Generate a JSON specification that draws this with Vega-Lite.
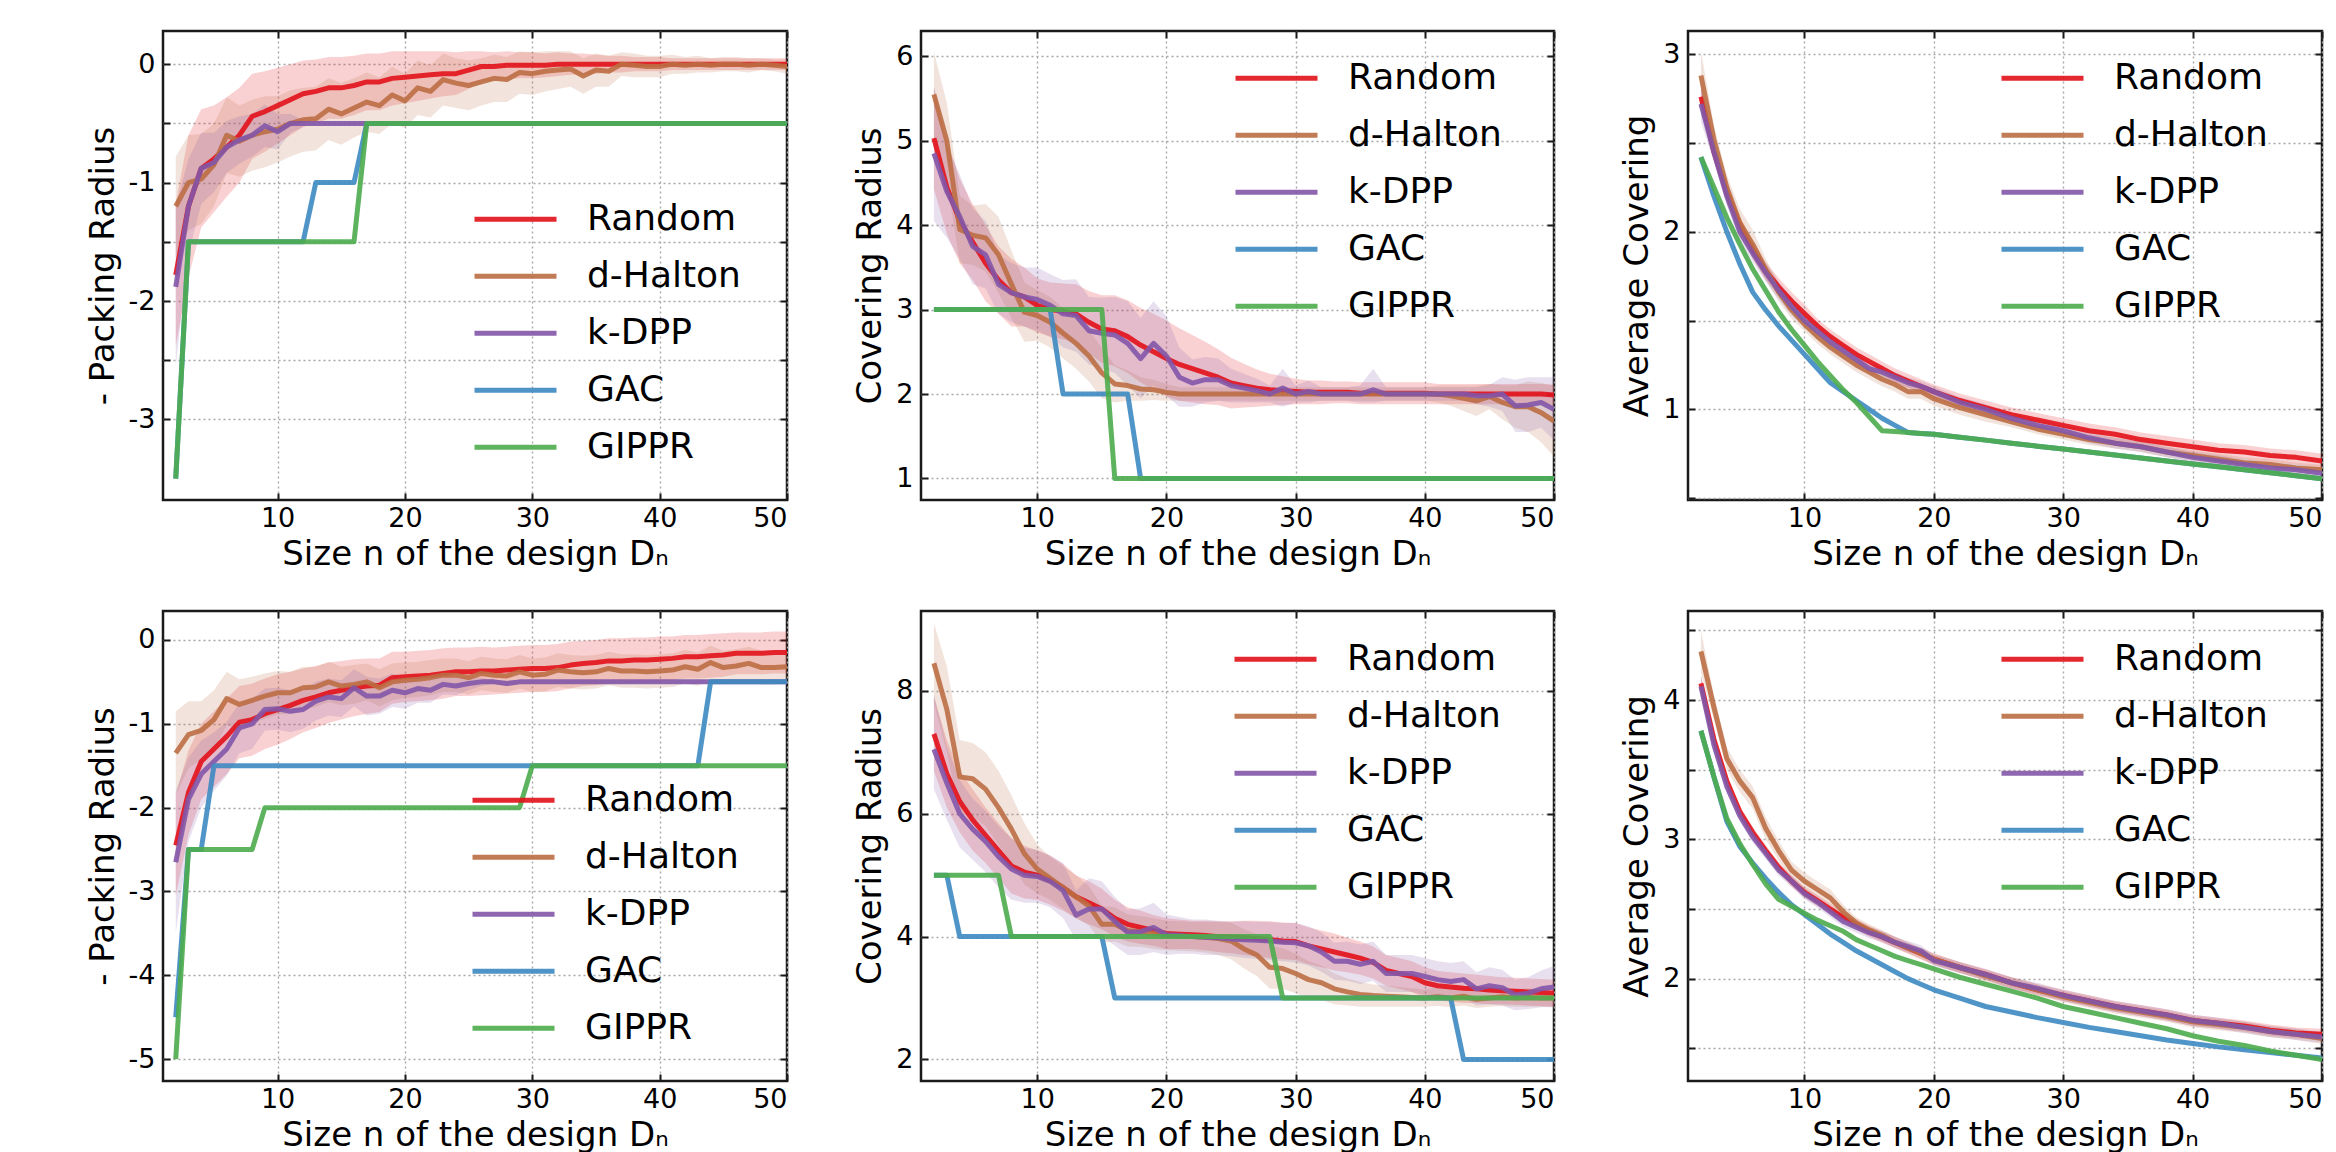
{
"$schema": "https://vega.github.io/schema/vega-lite/v6.json",
"padding": {"left": 84, "top": 28, "right": 5, "bottom": 5},
"autosize": {"type": "pad"},
"config": {
  "font": "DejaVu Sans",
  "view": {"stroke": "#1a1a1a", "strokeWidth": 2.5},
  "axis": {"labelFont": "DejaVu Sans", "labelFontSize": 27, "labelColor": "black", "titleFont": "DejaVu Sans", "titleFontSize": 34, "titleFontWeight": "normal", "titleColor": "black", "tickColor": "#1a1a1a", "tickSize": -7, "tickWidth": 2, "domain": false, "grid": false, "gridColor": "#a8a8a8", "gridDash": [2, 3], "gridWidth": 1.4},
  "axisX": {"labelPadding": 12, "titlePadding": 6},
  "axisY": {"labelPadding": 15, "titlePadding": 8},
  "legend": {"orient": "none", "symbolType": "stroke", "symbolSize": 6724, "symbolStrokeWidth": 5, "symbolOpacity": 0.9, "labelFont": "DejaVu Sans", "labelFontSize": 36, "labelColor": "black", "labelOffset": 28, "rowPadding": 2, "clipHeight": 54.5, "padding": 0, "title": null, "labelLimit": 400},
  "line": {"strokeJoin": "round"}
},
"datasets": {
"p1": [
{"n":2,"Random":-1.78,"Rl":-2.38,"Rh":-1.18,"d-Halton":-1.2,"Hl":-1.62,"Hh":-0.78,"k-DPP":-1.88,"Kl":-2.55,"Kh":-1.2,"GAC":-3.5,"GIPPR":-3.5},
{"n":3,"Random":-1.2,"Rl":-1.8,"Rh":-0.6,"d-Halton":-1.0,"Hl":-1.4,"Hh":-0.6,"k-DPP":-1.2,"Kl":-1.6,"Kh":-0.8,"GAC":-1.5,"GIPPR":-1.5},
{"n":4,"Random":-0.88,"Rl":-1.38,"Rh":-0.38,"d-Halton":-0.97,"Hl":-1.35,"Hh":-0.59,"k-DPP":-0.88,"Kl":-1.18,"Kh":-0.58,"GAC":-1.5,"GIPPR":-1.5},
{"n":5,"Random":-0.8,"Rl":-1.25,"Rh":-0.35,"d-Halton":-0.85,"Hl":-1.2,"Hh":-0.5,"k-DPP":-0.83,"Kl":-1.08,"Kh":-0.58,"GAC":-1.5,"GIPPR":-1.5},
{"n":6,"Random":-0.7,"Rl":-1.12,"Rh":-0.28,"d-Halton":-0.6,"Hl":-0.92,"Hh":-0.28,"k-DPP":-0.7,"Kl":-0.92,"Kh":-0.48,"GAC":-1.5,"GIPPR":-1.5},
{"n":7,"Random":-0.6,"Rl":-1.0,"Rh":-0.2,"d-Halton":-0.65,"Hl":-0.95,"Hh":-0.35,"k-DPP":-0.64,"Kl":-0.84,"Kh":-0.44,"GAC":-1.5,"GIPPR":-1.5},
{"n":8,"Random":-0.44,"Rl":-0.8,"Rh":-0.08,"d-Halton":-0.6,"Hl":-0.9,"Hh":-0.3,"k-DPP":-0.6,"Kl":-0.78,"Kh":-0.42,"GAC":-1.5,"GIPPR":-1.5},
{"n":9,"Random":-0.4,"Rl":-0.74,"Rh":-0.06,"d-Halton":-0.57,"Hl":-0.87,"Hh":-0.27,"k-DPP":-0.52,"Kl":-0.7,"Kh":-0.34,"GAC":-1.5,"GIPPR":-1.5},
{"n":10,"Random":-0.35,"Rl":-0.67,"Rh":-0.03,"d-Halton":-0.55,"Hl":-0.83,"Hh":-0.27,"k-DPP":-0.57,"Kl":-0.72,"Kh":-0.42,"GAC":-1.5,"GIPPR":-1.5},
{"n":11,"Random":-0.3,"Rl":-0.6,"Rh":0.0,"d-Halton":-0.5,"Hl":-0.78,"Hh":-0.22,"k-DPP":-0.5,"Kl":-0.58,"Kh":-0.42,"GAC":-1.5,"GIPPR":-1.5},
{"n":12,"Random":-0.25,"Rl":-0.53,"Rh":0.03,"d-Halton":-0.47,"Hl":-0.74,"Hh":-0.2,"k-DPP":-0.5,"Kl":-0.53,"Kh":-0.47,"GAC":-1.5,"GIPPR":-1.5},
{"n":13,"Random":-0.23,"Rl":-0.5,"Rh":0.04,"d-Halton":-0.46,"Hl":-0.73,"Hh":-0.19,"k-DPP":-0.5,"GAC":-1.0,"GIPPR":-1.5},
{"n":14,"Random":-0.2,"Rl":-0.46,"Rh":0.06,"d-Halton":-0.38,"Hl":-0.64,"Hh":-0.12,"k-DPP":-0.5,"GAC":-1.0,"GIPPR":-1.5},
{"n":15,"Random":-0.2,"Rl":-0.46,"Rh":0.06,"d-Halton":-0.42,"Hl":-0.68,"Hh":-0.16,"k-DPP":-0.5,"GAC":-1.0,"GIPPR":-1.5},
{"n":16,"Random":-0.18,"Rl":-0.43,"Rh":0.07,"d-Halton":-0.37,"Hl":-0.62,"Hh":-0.12,"k-DPP":-0.5,"GAC":-1.0,"GIPPR":-1.5},
{"n":17,"Random":-0.15,"Rl":-0.39,"Rh":0.09,"d-Halton":-0.32,"Hl":-0.57,"Hh":-0.07,"k-DPP":-0.5,"GAC":-0.5,"GIPPR":-0.5},
{"n":18,"Random":-0.15,"Rl":-0.39,"Rh":0.09,"d-Halton":-0.35,"Hl":-0.59,"Hh":-0.11,"k-DPP":-0.5,"GAC":-0.5,"GIPPR":-0.5},
{"n":19,"Random":-0.12,"Rl":-0.35,"Rh":0.11,"d-Halton":-0.26,"Hl":-0.5,"Hh":-0.02,"k-DPP":-0.5,"GAC":-0.5,"GIPPR":-0.5},
{"n":20,"Random":-0.11,"Rl":-0.33,"Rh":0.11,"d-Halton":-0.31,"Hl":-0.54,"Hh":-0.08,"k-DPP":-0.5,"GAC":-0.5,"GIPPR":-0.5},
{"n":21,"Random":-0.1,"Rl":-0.31,"Rh":0.11,"d-Halton":-0.2,"Hl":-0.43,"Hh":0.03,"k-DPP":-0.5,"GAC":-0.5,"GIPPR":-0.5},
{"n":22,"Random":-0.09,"Rl":-0.29,"Rh":0.11,"d-Halton":-0.23,"Hl":-0.45,"Hh":-0.01,"k-DPP":-0.5,"GAC":-0.5,"GIPPR":-0.5},
{"n":23,"Random":-0.08,"Rl":-0.27,"Rh":0.11,"d-Halton":-0.13,"Hl":-0.35,"Hh":0.09,"k-DPP":-0.5,"GAC":-0.5,"GIPPR":-0.5},
{"n":24,"Random":-0.08,"Rl":-0.26,"Rh":0.1,"d-Halton":-0.16,"Hl":-0.37,"Hh":0.05,"k-DPP":-0.5,"GAC":-0.5,"GIPPR":-0.5},
{"n":25,"Random":-0.05,"Rl":-0.21,"Rh":0.11,"d-Halton":-0.18,"Hl":-0.39,"Hh":0.03,"k-DPP":-0.5,"GAC":-0.5,"GIPPR":-0.5},
{"n":26,"Random":-0.02,"Rl":-0.15,"Rh":0.11,"d-Halton":-0.15,"Hl":-0.35,"Hh":0.05,"k-DPP":-0.5,"GAC":-0.5,"GIPPR":-0.5},
{"n":27,"Random":-0.02,"Rl":-0.14,"Rh":0.1,"d-Halton":-0.12,"Hl":-0.32,"Hh":0.08,"k-DPP":-0.5,"GAC":-0.5,"GIPPR":-0.5},
{"n":28,"Random":-0.01,"Rl":-0.13,"Rh":0.11,"d-Halton":-0.13,"Hl":-0.32,"Hh":0.06,"k-DPP":-0.5,"GAC":-0.5,"GIPPR":-0.5},
{"n":29,"Random":-0.01,"Rl":-0.12,"Rh":0.1,"d-Halton":-0.07,"Hl":-0.25,"Hh":0.11,"k-DPP":-0.5,"GAC":-0.5,"GIPPR":-0.5},
{"n":30,"Random":-0.01,"Rl":-0.12,"Rh":0.1,"d-Halton":-0.08,"Hl":-0.26,"Hh":0.1,"k-DPP":-0.5,"GAC":-0.5,"GIPPR":-0.5},
{"n":31,"Random":-0.01,"Rl":-0.11,"Rh":0.09,"d-Halton":-0.06,"Hl":-0.23,"Hh":0.11,"k-DPP":-0.5,"GAC":-0.5,"GIPPR":-0.5},
{"n":32,"Random":0.0,"Rl":-0.1,"Rh":0.1,"d-Halton":-0.05,"Hl":-0.21,"Hh":0.11,"k-DPP":-0.5,"GAC":-0.5,"GIPPR":-0.5},
{"n":33,"Random":0.0,"Rl":-0.09,"Rh":0.09,"d-Halton":-0.04,"Hl":-0.19,"Hh":0.11,"k-DPP":-0.5,"GAC":-0.5,"GIPPR":-0.5},
{"n":34,"Random":0.0,"Rl":-0.09,"Rh":0.09,"d-Halton":-0.1,"Hl":-0.25,"Hh":0.05,"k-DPP":-0.5,"GAC":-0.5,"GIPPR":-0.5},
{"n":35,"Random":0.0,"Rl":-0.08,"Rh":0.08,"d-Halton":-0.05,"Hl":-0.19,"Hh":0.09,"k-DPP":-0.5,"GAC":-0.5,"GIPPR":-0.5},
{"n":36,"Random":0.0,"Rl":-0.07,"Rh":0.07,"d-Halton":-0.06,"Hl":-0.19,"Hh":0.07,"k-DPP":-0.5,"GAC":-0.5,"GIPPR":-0.5},
{"n":37,"Random":0.0,"Rl":-0.07,"Rh":0.07,"d-Halton":0.0,"Hl":-0.1,"Hh":0.1,"k-DPP":-0.5,"GAC":-0.5,"GIPPR":-0.5},
{"n":38,"Random":0.0,"Rl":-0.06,"Rh":0.06,"d-Halton":-0.01,"Hl":-0.11,"Hh":0.09,"k-DPP":-0.5,"GAC":-0.5,"GIPPR":-0.5},
{"n":39,"Random":0.0,"Rl":-0.06,"Rh":0.06,"d-Halton":-0.02,"Hl":-0.11,"Hh":0.07,"k-DPP":-0.5,"GAC":-0.5,"GIPPR":-0.5},
{"n":40,"Random":0.0,"Rl":-0.06,"Rh":0.06,"d-Halton":-0.02,"Hl":-0.11,"Hh":0.07,"k-DPP":-0.5,"GAC":-0.5,"GIPPR":-0.5},
{"n":41,"Random":0.0,"Rl":-0.05,"Rh":0.05,"d-Halton":0.0,"Hl":-0.08,"Hh":0.08,"k-DPP":-0.5,"GAC":-0.5,"GIPPR":-0.5},
{"n":42,"Random":0.0,"Rl":-0.05,"Rh":0.05,"d-Halton":-0.01,"Hl":-0.08,"Hh":0.06,"k-DPP":-0.5,"GAC":-0.5,"GIPPR":-0.5},
{"n":43,"Random":0.0,"Rl":-0.05,"Rh":0.05,"d-Halton":0.0,"Hl":-0.07,"Hh":0.07,"k-DPP":-0.5,"GAC":-0.5,"GIPPR":-0.5},
{"n":44,"Random":0.0,"Rl":-0.05,"Rh":0.05,"d-Halton":-0.01,"Hl":-0.07,"Hh":0.05,"k-DPP":-0.5,"GAC":-0.5,"GIPPR":-0.5},
{"n":45,"Random":0.0,"Rl":-0.05,"Rh":0.05,"d-Halton":0.0,"Hl":-0.06,"Hh":0.06,"k-DPP":-0.5,"GAC":-0.5,"GIPPR":-0.5},
{"n":46,"Random":0.0,"Rl":-0.05,"Rh":0.05,"d-Halton":0.0,"Hl":-0.06,"Hh":0.06,"k-DPP":-0.5,"GAC":-0.5,"GIPPR":-0.5},
{"n":47,"Random":0.0,"Rl":-0.05,"Rh":0.05,"d-Halton":-0.01,"Hl":-0.07,"Hh":0.05,"k-DPP":-0.5,"GAC":-0.5,"GIPPR":-0.5},
{"n":48,"Random":0.0,"Rl":-0.05,"Rh":0.05,"d-Halton":0.0,"Hl":-0.05,"Hh":0.05,"k-DPP":-0.5,"GAC":-0.5,"GIPPR":-0.5},
{"n":49,"Random":0.0,"Rl":-0.05,"Rh":0.05,"d-Halton":-0.01,"Hl":-0.06,"Hh":0.04,"k-DPP":-0.5,"GAC":-0.5,"GIPPR":-0.5},
{"n":50,"Random":0.0,"Rl":-0.05,"Rh":0.05,"d-Halton":-0.02,"Hl":-0.08,"Hh":0.04,"k-DPP":-0.5,"GAC":-0.5,"GIPPR":-0.5}
],
"p2": [
{"n":2,"Random":5.03,"Rl":4.43,"Rh":5.63,"d-Halton":5.55,"Hl":5.05,"Hh":6.05,"k-DPP":4.85,"Kl":4.05,"Kh":5.65,"GAC":3,"GIPPR":3},
{"n":3,"Random":4.45,"Rl":3.9,"Rh":5.0,"d-Halton":5.0,"Hl":4.55,"Hh":5.45,"k-DPP":4.4,"Kl":3.85,"Kh":4.95,"GAC":3,"GIPPR":3},
{"n":4,"Random":4.05,"Rl":3.55,"Rh":4.55,"d-Halton":3.95,"Hl":3.55,"Hh":4.35,"k-DPP":4.1,"Kl":3.6,"Kh":4.6,"GAC":3,"GIPPR":3},
{"n":5,"Random":3.8,"Rl":3.35,"Rh":4.25,"d-Halton":3.88,"Hl":3.53,"Hh":4.23,"k-DPP":3.75,"Kl":3.3,"Kh":4.2,"GAC":3,"GIPPR":3},
{"n":6,"Random":3.55,"Rl":3.1,"Rh":4.0,"d-Halton":3.85,"Hl":3.45,"Hh":4.25,"k-DPP":3.65,"Kl":3.25,"Kh":4.05,"GAC":3,"GIPPR":3},
{"n":7,"Random":3.35,"Rl":2.95,"Rh":3.75,"d-Halton":3.65,"Hl":3.2,"Hh":4.1,"k-DPP":3.3,"Kl":2.95,"Kh":3.65,"GAC":3,"GIPPR":3},
{"n":8,"Random":3.2,"Rl":2.8,"Rh":3.6,"d-Halton":3.3,"Hl":2.9,"Hh":3.7,"k-DPP":3.2,"Kl":2.85,"Kh":3.55,"GAC":3,"GIPPR":3},
{"n":9,"Random":3.15,"Rl":2.8,"Rh":3.5,"d-Halton":2.97,"Hl":2.62,"Hh":3.32,"k-DPP":3.15,"Kl":2.8,"Kh":3.5,"GAC":3,"GIPPR":3},
{"n":10,"Random":3.05,"Rl":2.73,"Rh":3.37,"d-Halton":2.93,"Hl":2.63,"Hh":3.23,"k-DPP":3.12,"Kl":2.75,"Kh":3.5,"GAC":3,"GIPPR":3},
{"n":11,"Random":3.0,"Rl":2.68,"Rh":3.32,"d-Halton":2.85,"Hl":2.55,"Hh":3.15,"k-DPP":3.05,"Kl":2.68,"Kh":3.42,"GAC":3,"GIPPR":3},
{"n":12,"Random":2.98,"Rl":2.65,"Rh":3.31,"d-Halton":2.72,"Hl":2.42,"Hh":3.02,"k-DPP":2.95,"Kl":2.55,"Kh":3.35,"GAC":2,"GIPPR":3},
{"n":13,"Random":2.95,"Rl":2.6,"Rh":3.3,"d-Halton":2.6,"Hl":2.3,"Hh":2.9,"k-DPP":2.93,"Kl":2.5,"Kh":3.36,"GAC":2,"GIPPR":3},
{"n":14,"Random":2.85,"Rl":2.48,"Rh":3.22,"d-Halton":2.45,"Hl":2.15,"Hh":2.75,"k-DPP":2.75,"Kl":2.35,"Kh":3.15,"GAC":2,"GIPPR":3},
{"n":15,"Random":2.77,"Rl":2.37,"Rh":3.17,"d-Halton":2.25,"Hl":1.95,"Hh":2.55,"k-DPP":2.72,"Kl":2.3,"Kh":3.14,"GAC":2,"GIPPR":3},
{"n":16,"Random":2.75,"Rl":2.33,"Rh":3.17,"d-Halton":2.12,"Hl":1.9,"Hh":2.34,"k-DPP":2.7,"Kl":2.25,"Kh":3.15,"GAC":2,"GIPPR":1},
{"n":17,"Random":2.68,"Rl":2.25,"Rh":3.11,"d-Halton":2.1,"Hl":1.92,"Hh":2.28,"k-DPP":2.6,"Kl":2.1,"Kh":3.1,"GAC":2,"GIPPR":1},
{"n":18,"Random":2.58,"Rl":2.14,"Rh":3.02,"d-Halton":2.06,"Hl":1.92,"Hh":2.2,"k-DPP":2.42,"Kl":1.95,"Kh":2.9,"GAC":1,"GIPPR":1},
{"n":19,"Random":2.5,"Rl":2.05,"Rh":2.95,"d-Halton":2.05,"Hl":1.93,"Hh":2.17,"k-DPP":2.6,"Kl":2.1,"Kh":3.1,"GAC":1,"GIPPR":1},
{"n":20,"Random":2.42,"Rl":1.97,"Rh":2.87,"d-Halton":2.02,"Hl":1.92,"Hh":2.12,"k-DPP":2.45,"Kl":1.98,"Kh":2.92,"GAC":1,"GIPPR":1},
{"n":21,"Random":2.35,"Rl":1.92,"Rh":2.78,"d-Halton":2.0,"Hl":1.92,"Hh":2.08,"k-DPP":2.2,"Kl":1.85,"Kh":2.55,"GAC":1,"GIPPR":1},
{"n":22,"Random":2.3,"Rl":1.9,"Rh":2.7,"d-Halton":2.0,"Hl":1.92,"Hh":2.08,"k-DPP":2.13,"Kl":1.85,"Kh":2.41,"GAC":1,"GIPPR":1},
{"n":23,"Random":2.25,"Rl":1.88,"Rh":2.62,"d-Halton":2.0,"Hl":1.92,"Hh":2.08,"k-DPP":2.17,"Kl":1.9,"Kh":2.44,"GAC":1,"GIPPR":1},
{"n":24,"Random":2.2,"Rl":1.87,"Rh":2.53,"d-Halton":2.0,"Hl":1.92,"Hh":2.08,"k-DPP":2.17,"Kl":1.92,"Kh":2.42,"GAC":1,"GIPPR":1},
{"n":25,"Random":2.13,"Rl":1.83,"Rh":2.43,"d-Halton":2.0,"Hl":1.92,"Hh":2.08,"k-DPP":2.1,"Kl":1.9,"Kh":2.3,"GAC":1,"GIPPR":1},
{"n":26,"Random":2.1,"Rl":1.84,"Rh":2.36,"d-Halton":2.0,"Hl":1.92,"Hh":2.08,"k-DPP":2.07,"Kl":1.9,"Kh":2.24,"GAC":1,"GIPPR":1},
{"n":27,"Random":2.07,"Rl":1.85,"Rh":2.29,"d-Halton":2.0,"Hl":1.92,"Hh":2.08,"k-DPP":2.04,"Kl":1.9,"Kh":2.18,"GAC":1,"GIPPR":1},
{"n":28,"Random":2.05,"Rl":1.86,"Rh":2.24,"d-Halton":2.0,"Hl":1.92,"Hh":2.08,"k-DPP":2.0,"Kl":1.9,"Kh":2.1,"GAC":1,"GIPPR":1},
{"n":29,"Random":2.04,"Rl":1.87,"Rh":2.21,"d-Halton":2.0,"Hl":1.92,"Hh":2.08,"k-DPP":2.07,"Kl":1.85,"Kh":2.3,"GAC":1,"GIPPR":1},
{"n":30,"Random":2.03,"Rl":1.88,"Rh":2.18,"d-Halton":2.0,"Hl":1.92,"Hh":2.08,"k-DPP":2.0,"Kl":1.9,"Kh":2.1,"GAC":1,"GIPPR":1},
{"n":31,"Random":2.02,"Rl":1.88,"Rh":2.16,"d-Halton":2.0,"Hl":1.92,"Hh":2.08,"k-DPP":2.03,"Kl":1.9,"Kh":2.16,"GAC":1,"GIPPR":1},
{"n":32,"Random":2.02,"Rl":1.88,"Rh":2.16,"d-Halton":2.0,"Hl":1.92,"Hh":2.08,"k-DPP":2.0,"Kl":1.92,"Kh":2.08,"GAC":1,"GIPPR":1},
{"n":33,"Random":2.02,"Rl":1.89,"Rh":2.15,"d-Halton":2.0,"Hl":1.92,"Hh":2.08,"k-DPP":2.0,"Kl":1.92,"Kh":2.08,"GAC":1,"GIPPR":1},
{"n":34,"Random":2.02,"Rl":1.89,"Rh":2.15,"d-Halton":2.0,"Hl":1.92,"Hh":2.08,"k-DPP":2.0,"Kl":1.92,"Kh":2.08,"GAC":1,"GIPPR":1},
{"n":35,"Random":2.01,"Rl":1.88,"Rh":2.14,"d-Halton":2.0,"Hl":1.92,"Hh":2.08,"k-DPP":2.0,"Kl":1.9,"Kh":2.1,"GAC":1,"GIPPR":1},
{"n":36,"Random":2.01,"Rl":1.88,"Rh":2.14,"d-Halton":2.0,"Hl":1.92,"Hh":2.08,"k-DPP":2.05,"Kl":1.9,"Kh":2.3,"GAC":1,"GIPPR":1},
{"n":37,"Random":2.01,"Rl":1.88,"Rh":2.14,"d-Halton":2.0,"Hl":1.92,"Hh":2.08,"k-DPP":2.0,"Kl":1.92,"Kh":2.08,"GAC":1,"GIPPR":1},
{"n":38,"Random":2.01,"Rl":1.88,"Rh":2.14,"d-Halton":2.0,"Hl":1.92,"Hh":2.08,"k-DPP":2.0,"Kl":1.92,"Kh":2.08,"GAC":1,"GIPPR":1},
{"n":39,"Random":2.01,"Rl":1.88,"Rh":2.14,"d-Halton":2.0,"Hl":1.92,"Hh":2.08,"k-DPP":2.0,"Kl":1.92,"Kh":2.08,"GAC":1,"GIPPR":1},
{"n":40,"Random":2.01,"Rl":1.88,"Rh":2.14,"d-Halton":2.0,"Hl":1.92,"Hh":2.08,"k-DPP":2.0,"Kl":1.92,"Kh":2.08,"GAC":1,"GIPPR":1},
{"n":41,"Random":2.0,"Rl":1.88,"Rh":2.12,"d-Halton":2.0,"Hl":1.9,"Hh":2.1,"k-DPP":2.0,"Kl":1.92,"Kh":2.08,"GAC":1,"GIPPR":1},
{"n":42,"Random":2.0,"Rl":1.88,"Rh":2.12,"d-Halton":1.98,"Hl":1.86,"Hh":2.1,"k-DPP":2.0,"Kl":1.92,"Kh":2.08,"GAC":1,"GIPPR":1},
{"n":43,"Random":2.0,"Rl":1.88,"Rh":2.12,"d-Halton":1.95,"Hl":1.8,"Hh":2.1,"k-DPP":2.0,"Kl":1.92,"Kh":2.08,"GAC":1,"GIPPR":1},
{"n":44,"Random":2.0,"Rl":1.88,"Rh":2.12,"d-Halton":1.92,"Hl":1.74,"Hh":2.1,"k-DPP":1.98,"Kl":1.88,"Kh":2.08,"GAC":1,"GIPPR":1},
{"n":45,"Random":2.0,"Rl":1.88,"Rh":2.12,"d-Halton":1.97,"Hl":1.82,"Hh":2.12,"k-DPP":1.98,"Kl":1.85,"Kh":2.11,"GAC":1,"GIPPR":1},
{"n":46,"Random":2.0,"Rl":1.88,"Rh":2.12,"d-Halton":1.9,"Hl":1.7,"Hh":2.1,"k-DPP":2.0,"Kl":1.8,"Kh":2.2,"GAC":1,"GIPPR":1},
{"n":47,"Random":2.0,"Rl":1.88,"Rh":2.12,"d-Halton":1.85,"Hl":1.6,"Hh":2.1,"k-DPP":1.86,"Kl":1.55,"Kh":2.17,"GAC":1,"GIPPR":1},
{"n":48,"Random":2.0,"Rl":1.88,"Rh":2.12,"d-Halton":1.85,"Hl":1.55,"Hh":2.15,"k-DPP":1.87,"Kl":1.55,"Kh":2.2,"GAC":1,"GIPPR":1},
{"n":49,"Random":2.0,"Rl":1.88,"Rh":2.12,"d-Halton":1.78,"Hl":1.43,"Hh":2.13,"k-DPP":1.9,"Kl":1.6,"Kh":2.2,"GAC":1,"GIPPR":1},
{"n":50,"Random":1.99,"Rl":1.87,"Rh":2.11,"d-Halton":1.68,"Hl":1.26,"Hh":2.1,"k-DPP":1.82,"Kl":1.45,"Kh":2.2,"GAC":1,"GIPPR":1}
],
"p3": [
{"n":2,"Random":2.76,"Rl":2.7,"Rh":2.82,"d-Halton":2.88,"Hl":2.74,"Hh":3.02,"k-DPP":2.72,"Kl":2.62,"Kh":2.82,"GAC":2.42,"GIPPR":2.42},
{"n":3,"Random":2.45,"Rl":2.4,"Rh":2.5,"d-Halton":2.52,"Hl":2.44,"Hh":2.6,"k-DPP":2.45,"Kl":2.39,"Kh":2.51,"GAC":2.2,"GIPPR":2.25},
{"n":4,"Random":2.22,"Rl":2.17,"Rh":2.27,"d-Halton":2.25,"Hl":2.18,"Hh":2.32,"k-DPP":2.2,"Kl":2.15,"Kh":2.25,"GAC":2.0,"GIPPR":2.08},
{"n":5,"Random":2.04,"Rl":1.99,"Rh":2.09,"d-Halton":2.05,"Hl":1.97,"Hh":2.13,"k-DPP":2.0,"Kl":1.95,"Kh":2.05,"GAC":1.82,"GIPPR":1.93},
{"n":6,"Random":1.9,"Rl":1.85,"Rh":1.95,"d-Halton":1.93,"Hl":1.85,"Hh":2.01,"k-DPP":1.88,"Kl":1.83,"Kh":1.93,"GAC":1.66,"GIPPR":1.79},
{"n":7,"Random":1.78,"Rl":1.73,"Rh":1.83,"d-Halton":1.79,"Hl":1.73,"Hh":1.85,"k-DPP":1.77,"Kl":1.72,"Kh":1.82,"GAC":1.56,"GIPPR":1.67},
{"n":8,"Random":1.69,"Rl":1.64,"Rh":1.74,"d-Halton":1.66,"Hl":1.61,"Hh":1.71,"k-DPP":1.67,"Kl":1.62,"Kh":1.72,"GAC":1.47,"GIPPR":1.55},
{"n":9,"Random":1.61,"Rl":1.56,"Rh":1.66,"d-Halton":1.56,"Hl":1.51,"Hh":1.61,"k-DPP":1.58,"Kl":1.53,"Kh":1.63,"GAC":1.39,"GIPPR":1.45},
{"n":10,"Random":1.54,"Rl":1.49,"Rh":1.59,"d-Halton":1.48,"Hl":1.44,"Hh":1.52,"k-DPP":1.5,"Kl":1.46,"Kh":1.54,"GAC":1.31,"GIPPR":1.36},
{"n":11,"Random":1.47,"Rl":1.43,"Rh":1.51,"d-Halton":1.41,"Hl":1.37,"Hh":1.45,"k-DPP":1.44,"Kl":1.4,"Kh":1.48,"GAC":1.23,"GIPPR":1.27},
{"n":12,"Random":1.41,"Rl":1.37,"Rh":1.45,"d-Halton":1.35,"Hl":1.31,"Hh":1.39,"k-DPP":1.38,"Kl":1.34,"Kh":1.42,"GAC":1.15,"GIPPR":1.19},
{"n":13,"Random":1.36,"Rl":1.32,"Rh":1.4,"d-Halton":1.3,"Hl":1.26,"Hh":1.34,"k-DPP":1.33,"Kl":1.29,"Kh":1.37,"GAC":1.1,"GIPPR":1.11},
{"n":14,"Random":1.31,"Rl":1.27,"Rh":1.35,"d-Halton":1.25,"Hl":1.21,"Hh":1.29,"k-DPP":1.28,"Kl":1.24,"Kh":1.32,"GAC":1.05,"GIPPR":1.04},
{"n":15,"Random":1.27,"Rl":1.23,"Rh":1.31,"d-Halton":1.21,"Hl":1.17,"Hh":1.25,"k-DPP":1.23,"Kl":1.2,"Kh":1.26,"GAC":1.0,"GIPPR":0.96},
{"n":16,"Random":1.23,"Rl":1.19,"Rh":1.27,"d-Halton":1.17,"Hl":1.13,"Hh":1.21,"k-DPP":1.21,"Kl":1.18,"Kh":1.24,"GAC":0.95,"GIPPR":0.88},
{"n":17,"Random":1.19,"Rl":1.15,"Rh":1.23,"d-Halton":1.14,"Hl":1.1,"Hh":1.18,"k-DPP":1.18,"Kl":1.15,"Kh":1.21,"GAC":0.91,"GIPPR":0.875},
{"n":18,"Random":1.16,"Rl":1.12,"Rh":1.2,"d-Halton":1.1,"Hl":1.06,"Hh":1.14,"k-DPP":1.15,"Kl":1.12,"Kh":1.18,"GAC":0.87,"GIPPR":0.87},
{"n":19,"Random":1.13,"Rl":1.09,"Rh":1.17,"d-Halton":1.1,"Hl":1.06,"Hh":1.14,"k-DPP":1.13,"Kl":1.1,"Kh":1.16,"GAC":0.865,"GIPPR":0.865},
{"n":20,"Random":1.1,"Rl":1.06,"Rh":1.14,"d-Halton":1.06,"Hl":1.02,"Hh":1.1,"k-DPP":1.1,"Kl":1.07,"Kh":1.13,"GAC":0.86,"GIPPR":0.86},
{"n":22,"Random":1.05,"Rl":1.01,"Rh":1.09,"d-Halton":1.01,"Hl":0.97,"Hh":1.05,"k-DPP":1.04,"Kl":1.01,"Kh":1.07,"GAC":0.843,"GIPPR":0.843},
{"n":24,"Random":1.01,"Rl":0.97,"Rh":1.05,"d-Halton":0.97,"Hl":0.93,"Hh":1.01,"k-DPP":1.0,"Kl":0.97,"Kh":1.03,"GAC":0.827,"GIPPR":0.827},
{"n":26,"Random":0.97,"Rl":0.93,"Rh":1.01,"d-Halton":0.93,"Hl":0.9,"Hh":0.96,"k-DPP":0.95,"Kl":0.92,"Kh":0.98,"GAC":0.81,"GIPPR":0.81},
{"n":28,"Random":0.94,"Rl":0.9,"Rh":0.98,"d-Halton":0.89,"Hl":0.86,"Hh":0.92,"k-DPP":0.91,"Kl":0.88,"Kh":0.94,"GAC":0.793,"GIPPR":0.793},
{"n":30,"Random":0.91,"Rl":0.87,"Rh":0.95,"d-Halton":0.86,"Hl":0.83,"Hh":0.89,"k-DPP":0.88,"Kl":0.85,"Kh":0.91,"GAC":0.777,"GIPPR":0.777},
{"n":32,"Random":0.88,"Rl":0.84,"Rh":0.92,"d-Halton":0.83,"Hl":0.8,"Hh":0.86,"k-DPP":0.84,"Kl":0.81,"Kh":0.87,"GAC":0.76,"GIPPR":0.76},
{"n":34,"Random":0.86,"Rl":0.82,"Rh":0.9,"d-Halton":0.81,"Hl":0.78,"Hh":0.84,"k-DPP":0.81,"Kl":0.78,"Kh":0.84,"GAC":0.743,"GIPPR":0.743},
{"n":36,"Random":0.83,"Rl":0.79,"Rh":0.87,"d-Halton":0.79,"Hl":0.76,"Hh":0.82,"k-DPP":0.79,"Kl":0.76,"Kh":0.82,"GAC":0.727,"GIPPR":0.727},
{"n":38,"Random":0.81,"Rl":0.77,"Rh":0.85,"d-Halton":0.76,"Hl":0.73,"Hh":0.79,"k-DPP":0.76,"Kl":0.73,"Kh":0.79,"GAC":0.71,"GIPPR":0.71},
{"n":40,"Random":0.79,"Rl":0.75,"Rh":0.83,"d-Halton":0.74,"Hl":0.71,"Hh":0.77,"k-DPP":0.73,"Kl":0.7,"Kh":0.76,"GAC":0.693,"GIPPR":0.693},
{"n":42,"Random":0.77,"Rl":0.73,"Rh":0.81,"d-Halton":0.72,"Hl":0.69,"Hh":0.75,"k-DPP":0.71,"Kl":0.68,"Kh":0.74,"GAC":0.677,"GIPPR":0.677},
{"n":44,"Random":0.76,"Rl":0.72,"Rh":0.8,"d-Halton":0.7,"Hl":0.67,"Hh":0.73,"k-DPP":0.69,"Kl":0.66,"Kh":0.72,"GAC":0.66,"GIPPR":0.66},
{"n":46,"Random":0.74,"Rl":0.7,"Rh":0.78,"d-Halton":0.69,"Hl":0.66,"Hh":0.72,"k-DPP":0.67,"Kl":0.64,"Kh":0.7,"GAC":0.643,"GIPPR":0.643},
{"n":48,"Random":0.73,"Rl":0.69,"Rh":0.77,"d-Halton":0.67,"Hl":0.64,"Hh":0.7,"k-DPP":0.66,"Kl":0.63,"Kh":0.69,"GAC":0.627,"GIPPR":0.627},
{"n":50,"Random":0.71,"Rl":0.67,"Rh":0.75,"d-Halton":0.66,"Hl":0.63,"Hh":0.69,"k-DPP":0.64,"Kl":0.61,"Kh":0.67,"GAC":0.61,"GIPPR":0.61}
],
"p4": [
{"n":2,"Random":-2.45,"Rl":-3.05,"Rh":-1.85,"d-Halton":-1.35,"Hl":-1.85,"Hh":-0.85,"k-DPP":-2.65,"Kl":-3.5,"Kh":-1.8,"GAC":-4.5,"GIPPR":-5},
{"n":3,"Random":-1.82,"Rl":-2.32,"Rh":-1.32,"d-Halton":-1.13,"Hl":-1.53,"Hh":-0.73,"k-DPP":-1.9,"Kl":-2.4,"Kh":-1.4,"GAC":-2.5,"GIPPR":-2.5},
{"n":4,"Random":-1.45,"Rl":-1.9,"Rh":-1.0,"d-Halton":-1.08,"Hl":-1.43,"Hh":-0.73,"k-DPP":-1.6,"Kl":-2.0,"Kh":-1.2,"GAC":-2.5,"GIPPR":-2.5},
{"n":5,"Random":-1.3,"Rl":-1.75,"Rh":-0.85,"d-Halton":-0.95,"Hl":-1.3,"Hh":-0.6,"k-DPP":-1.45,"Kl":-1.8,"Kh":-1.1,"GAC":-1.5,"GIPPR":-2.5},
{"n":6,"Random":-1.15,"Rl":-1.6,"Rh":-0.7,"d-Halton":-0.7,"Hl":-1.02,"Hh":-0.38,"k-DPP":-1.3,"Kl":-1.62,"Kh":-0.98,"GAC":-1.5,"GIPPR":-2.5},
{"n":7,"Random":-0.98,"Rl":-1.41,"Rh":-0.55,"d-Halton":-0.77,"Hl":-1.07,"Hh":-0.47,"k-DPP":-1.05,"Kl":-1.35,"Kh":-0.75,"GAC":-1.5,"GIPPR":-2.5},
{"n":8,"Random":-0.95,"Rl":-1.38,"Rh":-0.52,"d-Halton":-0.72,"Hl":-1.0,"Hh":-0.44,"k-DPP":-1.0,"Kl":-1.3,"Kh":-0.7,"GAC":-1.5,"GIPPR":-2.5},
{"n":9,"Random":-0.88,"Rl":-1.3,"Rh":-0.46,"d-Halton":-0.67,"Hl":-0.94,"Hh":-0.4,"k-DPP":-0.83,"Kl":-1.08,"Kh":-0.58,"GAC":-1.5,"GIPPR":-2},
{"n":10,"Random":-0.83,"Rl":-1.25,"Rh":-0.41,"d-Halton":-0.63,"Hl":-0.89,"Hh":-0.37,"k-DPP":-0.82,"Kl":-1.07,"Kh":-0.57,"GAC":-1.5,"GIPPR":-2},
{"n":11,"Random":-0.78,"Rl":-1.18,"Rh":-0.38,"d-Halton":-0.63,"Hl":-0.88,"Hh":-0.38,"k-DPP":-0.85,"Kl":-1.1,"Kh":-0.6,"GAC":-1.5,"GIPPR":-2},
{"n":12,"Random":-0.72,"Rl":-1.1,"Rh":-0.34,"d-Halton":-0.57,"Hl":-0.82,"Hh":-0.32,"k-DPP":-0.83,"Kl":-1.06,"Kh":-0.6,"GAC":-1.5,"GIPPR":-2},
{"n":13,"Random":-0.68,"Rl":-1.05,"Rh":-0.31,"d-Halton":-0.56,"Hl":-0.8,"Hh":-0.32,"k-DPP":-0.73,"Kl":-0.96,"Kh":-0.5,"GAC":-1.5,"GIPPR":-2},
{"n":14,"Random":-0.63,"Rl":-0.99,"Rh":-0.27,"d-Halton":-0.5,"Hl":-0.74,"Hh":-0.26,"k-DPP":-0.68,"Kl":-0.9,"Kh":-0.46,"GAC":-1.5,"GIPPR":-2},
{"n":15,"Random":-0.6,"Rl":-0.95,"Rh":-0.25,"d-Halton":-0.55,"Hl":-0.78,"Hh":-0.32,"k-DPP":-0.7,"Kl":-0.92,"Kh":-0.48,"GAC":-1.5,"GIPPR":-2},
{"n":16,"Random":-0.57,"Rl":-0.91,"Rh":-0.23,"d-Halton":-0.53,"Hl":-0.76,"Hh":-0.3,"k-DPP":-0.57,"Kl":-0.79,"Kh":-0.35,"GAC":-1.5,"GIPPR":-2},
{"n":17,"Random":-0.55,"Rl":-0.88,"Rh":-0.22,"d-Halton":-0.5,"Hl":-0.72,"Hh":-0.28,"k-DPP":-0.67,"Kl":-0.9,"Kh":-0.44,"GAC":-1.5,"GIPPR":-2},
{"n":18,"Random":-0.54,"Rl":-0.86,"Rh":-0.22,"d-Halton":-0.57,"Hl":-0.79,"Hh":-0.35,"k-DPP":-0.67,"Kl":-0.88,"Kh":-0.46,"GAC":-1.5,"GIPPR":-2},
{"n":19,"Random":-0.45,"Rl":-0.76,"Rh":-0.14,"d-Halton":-0.5,"Hl":-0.72,"Hh":-0.28,"k-DPP":-0.6,"Kl":-0.8,"Kh":-0.4,"GAC":-1.5,"GIPPR":-2},
{"n":20,"Random":-0.44,"Rl":-0.74,"Rh":-0.14,"d-Halton":-0.48,"Hl":-0.69,"Hh":-0.27,"k-DPP":-0.63,"Kl":-0.82,"Kh":-0.44,"GAC":-1.5,"GIPPR":-2},
{"n":21,"Random":-0.43,"Rl":-0.73,"Rh":-0.13,"d-Halton":-0.47,"Hl":-0.68,"Hh":-0.26,"k-DPP":-0.58,"Kl":-0.75,"Kh":-0.41,"GAC":-1.5,"GIPPR":-2},
{"n":22,"Random":-0.42,"Rl":-0.72,"Rh":-0.12,"d-Halton":-0.45,"Hl":-0.66,"Hh":-0.24,"k-DPP":-0.6,"Kl":-0.75,"Kh":-0.45,"GAC":-1.5,"GIPPR":-2},
{"n":23,"Random":-0.4,"Rl":-0.7,"Rh":-0.1,"d-Halton":-0.42,"Hl":-0.62,"Hh":-0.22,"k-DPP":-0.53,"Kl":-0.65,"Kh":-0.41,"GAC":-1.5,"GIPPR":-2},
{"n":24,"Random":-0.38,"Rl":-0.67,"Rh":-0.09,"d-Halton":-0.42,"Hl":-0.62,"Hh":-0.22,"k-DPP":-0.55,"Kl":-0.66,"Kh":-0.44,"GAC":-1.5,"GIPPR":-2},
{"n":25,"Random":-0.38,"Rl":-0.67,"Rh":-0.09,"d-Halton":-0.45,"Hl":-0.65,"Hh":-0.25,"k-DPP":-0.52,"Kl":-0.6,"Kh":-0.44,"GAC":-1.5,"GIPPR":-2},
{"n":26,"Random":-0.37,"Rl":-0.66,"Rh":-0.08,"d-Halton":-0.4,"Hl":-0.6,"Hh":-0.2,"k-DPP":-0.5,"Kl":-0.55,"Kh":-0.45,"GAC":-1.5,"GIPPR":-2},
{"n":27,"Random":-0.37,"Rl":-0.65,"Rh":-0.09,"d-Halton":-0.42,"Hl":-0.62,"Hh":-0.22,"k-DPP":-0.5,"Kl":-0.52,"Kh":-0.48,"GAC":-1.5,"GIPPR":-2},
{"n":28,"Random":-0.36,"Rl":-0.64,"Rh":-0.08,"d-Halton":-0.43,"Hl":-0.63,"Hh":-0.23,"k-DPP":-0.52,"Kl":-0.55,"Kh":-0.49,"GAC":-1.5,"GIPPR":-2},
{"n":29,"Random":-0.35,"Rl":-0.63,"Rh":-0.07,"d-Halton":-0.38,"Hl":-0.58,"Hh":-0.18,"k-DPP":-0.5,"GAC":-1.5,"GIPPR":-2},
{"n":30,"Random":-0.34,"Rl":-0.62,"Rh":-0.06,"d-Halton":-0.42,"Hl":-0.62,"Hh":-0.22,"k-DPP":-0.5,"GAC":-1.5,"GIPPR":-1.5},
{"n":31,"Random":-0.34,"Rl":-0.62,"Rh":-0.06,"d-Halton":-0.41,"Hl":-0.61,"Hh":-0.21,"k-DPP":-0.5,"GAC":-1.5,"GIPPR":-1.5},
{"n":32,"Random":-0.33,"Rl":-0.61,"Rh":-0.05,"d-Halton":-0.36,"Hl":-0.56,"Hh":-0.16,"k-DPP":-0.5,"GAC":-1.5,"GIPPR":-1.5},
{"n":33,"Random":-0.3,"Rl":-0.58,"Rh":-0.02,"d-Halton":-0.38,"Hl":-0.58,"Hh":-0.18,"k-DPP":-0.5,"GAC":-1.5,"GIPPR":-1.5},
{"n":34,"Random":-0.28,"Rl":-0.55,"Rh":-0.01,"d-Halton":-0.39,"Hl":-0.59,"Hh":-0.19,"k-DPP":-0.5,"GAC":-1.5,"GIPPR":-1.5},
{"n":35,"Random":-0.27,"Rl":-0.54,"Rh":0.0,"d-Halton":-0.38,"Hl":-0.58,"Hh":-0.18,"k-DPP":-0.5,"GAC":-1.5,"GIPPR":-1.5},
{"n":36,"Random":-0.25,"Rl":-0.52,"Rh":0.02,"d-Halton":-0.34,"Hl":-0.54,"Hh":-0.14,"k-DPP":-0.5,"GAC":-1.5,"GIPPR":-1.5},
{"n":37,"Random":-0.25,"Rl":-0.52,"Rh":0.02,"d-Halton":-0.37,"Hl":-0.57,"Hh":-0.17,"k-DPP":-0.5,"GAC":-1.5,"GIPPR":-1.5},
{"n":38,"Random":-0.24,"Rl":-0.51,"Rh":0.03,"d-Halton":-0.37,"Hl":-0.57,"Hh":-0.17,"k-DPP":-0.5,"GAC":-1.5,"GIPPR":-1.5},
{"n":39,"Random":-0.24,"Rl":-0.51,"Rh":0.03,"d-Halton":-0.38,"Hl":-0.58,"Hh":-0.18,"k-DPP":-0.5,"GAC":-1.5,"GIPPR":-1.5},
{"n":40,"Random":-0.23,"Rl":-0.5,"Rh":0.04,"d-Halton":-0.37,"Hl":-0.57,"Hh":-0.17,"k-DPP":-0.5,"GAC":-1.5,"GIPPR":-1.5},
{"n":41,"Random":-0.22,"Rl":-0.48,"Rh":0.04,"d-Halton":-0.36,"Hl":-0.56,"Hh":-0.16,"k-DPP":-0.5,"GAC":-1.5,"GIPPR":-1.5},
{"n":42,"Random":-0.2,"Rl":-0.46,"Rh":0.06,"d-Halton":-0.32,"Hl":-0.52,"Hh":-0.12,"k-DPP":-0.5,"GAC":-1.5,"GIPPR":-1.5},
{"n":43,"Random":-0.2,"Rl":-0.46,"Rh":0.06,"d-Halton":-0.35,"Hl":-0.55,"Hh":-0.15,"k-DPP":-0.5,"GAC":-1.5,"GIPPR":-1.5},
{"n":44,"Random":-0.19,"Rl":-0.45,"Rh":0.07,"d-Halton":-0.27,"Hl":-0.47,"Hh":-0.07,"k-DPP":-0.5,"GAC":-0.5,"GIPPR":-1.5},
{"n":45,"Random":-0.18,"Rl":-0.44,"Rh":0.08,"d-Halton":-0.33,"Hl":-0.53,"Hh":-0.13,"k-DPP":-0.5,"GAC":-0.5,"GIPPR":-1.5},
{"n":46,"Random":-0.16,"Rl":-0.41,"Rh":0.09,"d-Halton":-0.31,"Hl":-0.51,"Hh":-0.11,"k-DPP":-0.5,"GAC":-0.5,"GIPPR":-1.5},
{"n":47,"Random":-0.16,"Rl":-0.41,"Rh":0.09,"d-Halton":-0.28,"Hl":-0.48,"Hh":-0.08,"k-DPP":-0.5,"GAC":-0.5,"GIPPR":-1.5},
{"n":48,"Random":-0.16,"Rl":-0.41,"Rh":0.09,"d-Halton":-0.33,"Hl":-0.53,"Hh":-0.13,"k-DPP":-0.5,"GAC":-0.5,"GIPPR":-1.5},
{"n":49,"Random":-0.15,"Rl":-0.4,"Rh":0.1,"d-Halton":-0.33,"Hl":-0.53,"Hh":-0.13,"k-DPP":-0.5,"GAC":-0.5,"GIPPR":-1.5},
{"n":50,"Random":-0.15,"Rl":-0.4,"Rh":0.1,"d-Halton":-0.32,"Hl":-0.52,"Hh":-0.12,"k-DPP":-0.5,"GAC":-0.5,"GIPPR":-1.5}
],
"p5": [
{"n":2,"Random":7.3,"Rl":6.7,"Rh":7.9,"d-Halton":8.45,"Hl":7.8,"Hh":9.1,"k-DPP":7.05,"Kl":6.4,"Kh":7.95,"GAC":5,"GIPPR":5},
{"n":3,"Random":6.65,"Rl":6.1,"Rh":7.2,"d-Halton":7.7,"Hl":7.0,"Hh":8.4,"k-DPP":6.5,"Kl":5.9,"Kh":7.1,"GAC":5,"GIPPR":5},
{"n":4,"Random":6.2,"Rl":5.7,"Rh":6.7,"d-Halton":6.6,"Hl":6.0,"Hh":7.2,"k-DPP":6.0,"Kl":5.45,"Kh":6.55,"GAC":4,"GIPPR":5},
{"n":5,"Random":5.9,"Rl":5.4,"Rh":6.4,"d-Halton":6.57,"Hl":5.95,"Hh":7.15,"k-DPP":5.75,"Kl":5.25,"Kh":6.25,"GAC":4,"GIPPR":5},
{"n":6,"Random":5.65,"Rl":5.2,"Rh":6.1,"d-Halton":6.4,"Hl":5.8,"Hh":7.0,"k-DPP":5.55,"Kl":5.05,"Kh":6.05,"GAC":4,"GIPPR":5},
{"n":7,"Random":5.4,"Rl":4.95,"Rh":5.85,"d-Halton":6.1,"Hl":5.5,"Hh":6.7,"k-DPP":5.3,"Kl":4.8,"Kh":5.8,"GAC":4,"GIPPR":5},
{"n":8,"Random":5.15,"Rl":4.7,"Rh":5.6,"d-Halton":5.75,"Hl":5.2,"Hh":6.3,"k-DPP":5.1,"Kl":4.6,"Kh":5.6,"GAC":4,"GIPPR":4},
{"n":9,"Random":5.05,"Rl":4.62,"Rh":5.48,"d-Halton":5.35,"Hl":4.85,"Hh":5.85,"k-DPP":5.0,"Kl":4.55,"Kh":5.45,"GAC":4,"GIPPR":4},
{"n":10,"Random":5.0,"Rl":4.6,"Rh":5.4,"d-Halton":5.1,"Hl":4.7,"Hh":5.5,"k-DPP":4.98,"Kl":4.55,"Kh":5.41,"GAC":4,"GIPPR":4},
{"n":11,"Random":4.92,"Rl":4.52,"Rh":5.32,"d-Halton":4.95,"Hl":4.6,"Hh":5.3,"k-DPP":4.9,"Kl":4.48,"Kh":5.32,"GAC":4,"GIPPR":4},
{"n":12,"Random":4.8,"Rl":4.42,"Rh":5.18,"d-Halton":4.8,"Hl":4.45,"Hh":5.15,"k-DPP":4.75,"Kl":4.3,"Kh":5.2,"GAC":4,"GIPPR":4},
{"n":13,"Random":4.65,"Rl":4.3,"Rh":5.0,"d-Halton":4.65,"Hl":4.3,"Hh":5.0,"k-DPP":4.35,"Kl":3.95,"Kh":4.75,"GAC":4,"GIPPR":4},
{"n":14,"Random":4.55,"Rl":4.2,"Rh":4.9,"d-Halton":4.5,"Hl":4.18,"Hh":4.82,"k-DPP":4.45,"Kl":4.0,"Kh":4.95,"GAC":4,"GIPPR":4},
{"n":15,"Random":4.45,"Rl":4.12,"Rh":4.78,"d-Halton":4.2,"Hl":3.9,"Hh":4.5,"k-DPP":4.45,"Kl":4.0,"Kh":4.9,"GAC":4,"GIPPR":4},
{"n":16,"Random":4.3,"Rl":4.0,"Rh":4.6,"d-Halton":4.2,"Hl":3.92,"Hh":4.48,"k-DPP":4.25,"Kl":3.85,"Kh":4.65,"GAC":3,"GIPPR":4},
{"n":17,"Random":4.2,"Rl":3.92,"Rh":4.48,"d-Halton":4.1,"Hl":3.84,"Hh":4.36,"k-DPP":4.07,"Kl":3.7,"Kh":4.44,"GAC":3,"GIPPR":4},
{"n":18,"Random":4.15,"Rl":3.88,"Rh":4.42,"d-Halton":4.08,"Hl":3.83,"Hh":4.33,"k-DPP":4.08,"Kl":3.7,"Kh":4.46,"GAC":3,"GIPPR":4},
{"n":19,"Random":4.1,"Rl":3.85,"Rh":4.35,"d-Halton":4.05,"Hl":3.8,"Hh":4.3,"k-DPP":4.15,"Kl":3.75,"Kh":4.55,"GAC":3,"GIPPR":4},
{"n":20,"Random":4.05,"Rl":3.8,"Rh":4.3,"d-Halton":4.02,"Hl":3.78,"Hh":4.26,"k-DPP":4.03,"Kl":3.7,"Kh":4.36,"GAC":3,"GIPPR":4},
{"n":21,"Random":4.04,"Rl":3.8,"Rh":4.28,"d-Halton":4.01,"Hl":3.77,"Hh":4.25,"k-DPP":4.02,"Kl":3.72,"Kh":4.32,"GAC":3,"GIPPR":4},
{"n":22,"Random":4.03,"Rl":3.8,"Rh":4.26,"d-Halton":4.0,"Hl":3.76,"Hh":4.24,"k-DPP":4.0,"Kl":3.72,"Kh":4.28,"GAC":3,"GIPPR":4},
{"n":23,"Random":4.02,"Rl":3.78,"Rh":4.26,"d-Halton":3.99,"Hl":3.74,"Hh":4.24,"k-DPP":3.99,"Kl":3.7,"Kh":4.28,"GAC":3,"GIPPR":4},
{"n":24,"Random":4.0,"Rl":3.75,"Rh":4.25,"d-Halton":3.97,"Hl":3.7,"Hh":4.24,"k-DPP":3.98,"Kl":3.7,"Kh":4.26,"GAC":3,"GIPPR":4},
{"n":25,"Random":3.99,"Rl":3.73,"Rh":4.25,"d-Halton":3.93,"Hl":3.63,"Hh":4.23,"k-DPP":3.96,"Kl":3.68,"Kh":4.24,"GAC":3,"GIPPR":4},
{"n":26,"Random":3.98,"Rl":3.7,"Rh":4.26,"d-Halton":3.8,"Hl":3.48,"Hh":4.12,"k-DPP":3.95,"Kl":3.65,"Kh":4.25,"GAC":3,"GIPPR":4},
{"n":27,"Random":3.97,"Rl":3.68,"Rh":4.26,"d-Halton":3.7,"Hl":3.36,"Hh":4.04,"k-DPP":3.94,"Kl":3.64,"Kh":4.24,"GAC":3,"GIPPR":4},
{"n":28,"Random":3.95,"Rl":3.65,"Rh":4.25,"d-Halton":3.5,"Hl":3.15,"Hh":3.85,"k-DPP":3.93,"Kl":3.62,"Kh":4.24,"GAC":3,"GIPPR":4},
{"n":29,"Random":3.93,"Rl":3.63,"Rh":4.23,"d-Halton":3.48,"Hl":3.15,"Hh":3.81,"k-DPP":3.91,"Kl":3.6,"Kh":4.22,"GAC":3,"GIPPR":3},
{"n":30,"Random":3.92,"Rl":3.62,"Rh":4.22,"d-Halton":3.4,"Hl":3.08,"Hh":3.72,"k-DPP":3.9,"Kl":3.58,"Kh":4.22,"GAC":3,"GIPPR":3},
{"n":31,"Random":3.85,"Rl":3.55,"Rh":4.15,"d-Halton":3.3,"Hl":3.0,"Hh":3.6,"k-DPP":3.85,"Kl":3.53,"Kh":4.17,"GAC":3,"GIPPR":3},
{"n":32,"Random":3.8,"Rl":3.5,"Rh":4.1,"d-Halton":3.25,"Hl":2.97,"Hh":3.53,"k-DPP":3.75,"Kl":3.43,"Kh":4.07,"GAC":3,"GIPPR":3},
{"n":33,"Random":3.75,"Rl":3.45,"Rh":4.05,"d-Halton":3.15,"Hl":2.9,"Hh":3.4,"k-DPP":3.6,"Kl":3.3,"Kh":3.9,"GAC":3,"GIPPR":3},
{"n":34,"Random":3.7,"Rl":3.42,"Rh":3.98,"d-Halton":3.1,"Hl":2.88,"Hh":3.32,"k-DPP":3.6,"Kl":3.28,"Kh":3.92,"GAC":3,"GIPPR":3},
{"n":35,"Random":3.65,"Rl":3.38,"Rh":3.92,"d-Halton":3.06,"Hl":2.86,"Hh":3.26,"k-DPP":3.55,"Kl":3.23,"Kh":3.87,"GAC":3,"GIPPR":3},
{"n":36,"Random":3.58,"Rl":3.32,"Rh":3.84,"d-Halton":3.04,"Hl":2.86,"Hh":3.22,"k-DPP":3.6,"Kl":3.28,"Kh":3.92,"GAC":3,"GIPPR":3},
{"n":37,"Random":3.45,"Rl":3.2,"Rh":3.7,"d-Halton":3.03,"Hl":2.86,"Hh":3.2,"k-DPP":3.4,"Kl":3.1,"Kh":3.7,"GAC":3,"GIPPR":3},
{"n":38,"Random":3.4,"Rl":3.15,"Rh":3.65,"d-Halton":3.02,"Hl":2.86,"Hh":3.18,"k-DPP":3.4,"Kl":3.1,"Kh":3.7,"GAC":3,"GIPPR":3},
{"n":39,"Random":3.35,"Rl":3.1,"Rh":3.6,"d-Halton":3.01,"Hl":2.86,"Hh":3.16,"k-DPP":3.4,"Kl":3.1,"Kh":3.7,"GAC":3,"GIPPR":3},
{"n":40,"Random":3.25,"Rl":3.0,"Rh":3.5,"d-Halton":3.0,"Hl":2.86,"Hh":3.14,"k-DPP":3.35,"Kl":3.05,"Kh":3.65,"GAC":3,"GIPPR":3},
{"n":41,"Random":3.2,"Rl":2.96,"Rh":3.44,"d-Halton":3.02,"Hl":2.87,"Hh":3.17,"k-DPP":3.3,"Kl":3.0,"Kh":3.6,"GAC":3,"GIPPR":3},
{"n":42,"Random":3.18,"Rl":2.94,"Rh":3.42,"d-Halton":3.0,"Hl":2.85,"Hh":3.15,"k-DPP":3.27,"Kl":2.97,"Kh":3.57,"GAC":3,"GIPPR":3},
{"n":43,"Random":3.16,"Rl":2.92,"Rh":3.4,"d-Halton":3.03,"Hl":2.88,"Hh":3.18,"k-DPP":3.3,"Kl":3.0,"Kh":3.6,"GAC":2,"GIPPR":3},
{"n":44,"Random":3.15,"Rl":2.92,"Rh":3.38,"d-Halton":2.98,"Hl":2.84,"Hh":3.12,"k-DPP":3.15,"Kl":2.88,"Kh":3.42,"GAC":2,"GIPPR":3},
{"n":45,"Random":3.13,"Rl":2.9,"Rh":3.36,"d-Halton":3.0,"Hl":2.86,"Hh":3.14,"k-DPP":3.2,"Kl":2.9,"Kh":3.5,"GAC":2,"GIPPR":3},
{"n":46,"Random":3.12,"Rl":2.9,"Rh":3.34,"d-Halton":3.02,"Hl":2.87,"Hh":3.17,"k-DPP":3.17,"Kl":2.88,"Kh":3.46,"GAC":2,"GIPPR":3},
{"n":47,"Random":3.11,"Rl":2.89,"Rh":3.33,"d-Halton":3.0,"Hl":2.86,"Hh":3.14,"k-DPP":3.05,"Kl":2.8,"Kh":3.3,"GAC":2,"GIPPR":3},
{"n":48,"Random":3.1,"Rl":2.88,"Rh":3.32,"d-Halton":3.01,"Hl":2.86,"Hh":3.16,"k-DPP":3.08,"Kl":2.82,"Kh":3.34,"GAC":2,"GIPPR":3},
{"n":49,"Random":3.09,"Rl":2.87,"Rh":3.31,"d-Halton":3.0,"Hl":2.86,"Hh":3.14,"k-DPP":3.15,"Kl":2.85,"Kh":3.45,"GAC":2,"GIPPR":3},
{"n":50,"Random":3.08,"Rl":2.86,"Rh":3.3,"d-Halton":3.0,"Hl":2.86,"Hh":3.14,"k-DPP":3.18,"Kl":2.85,"Kh":3.52,"GAC":2,"GIPPR":3}
],
"p6": [
{"n":2,"Random":4.12,"Rl":4.06,"Rh":4.18,"d-Halton":4.35,"Hl":4.2,"Hh":4.5,"k-DPP":4.1,"Kl":4.02,"Kh":4.18,"GAC":3.78,"GIPPR":3.78},
{"n":3,"Random":3.72,"Rl":3.67,"Rh":3.77,"d-Halton":3.95,"Hl":3.86,"Hh":4.04,"k-DPP":3.68,"Kl":3.63,"Kh":3.73,"GAC":3.45,"GIPPR":3.45},
{"n":4,"Random":3.42,"Rl":3.38,"Rh":3.46,"d-Halton":3.58,"Hl":3.5,"Hh":3.66,"k-DPP":3.38,"Kl":3.34,"Kh":3.42,"GAC":3.13,"GIPPR":3.15},
{"n":5,"Random":3.2,"Rl":3.16,"Rh":3.24,"d-Halton":3.42,"Hl":3.34,"Hh":3.5,"k-DPP":3.17,"Kl":3.13,"Kh":3.21,"GAC":2.95,"GIPPR":2.97},
{"n":6,"Random":3.05,"Rl":3.01,"Rh":3.09,"d-Halton":3.3,"Hl":3.22,"Hh":3.38,"k-DPP":3.02,"Kl":2.98,"Kh":3.06,"GAC":2.83,"GIPPR":2.82},
{"n":7,"Random":2.92,"Rl":2.88,"Rh":2.96,"d-Halton":3.08,"Hl":3.0,"Hh":3.16,"k-DPP":2.9,"Kl":2.86,"Kh":2.94,"GAC":2.72,"GIPPR":2.68},
{"n":8,"Random":2.8,"Rl":2.76,"Rh":2.84,"d-Halton":2.92,"Hl":2.85,"Hh":2.99,"k-DPP":2.78,"Kl":2.74,"Kh":2.82,"GAC":2.62,"GIPPR":2.57},
{"n":9,"Random":2.7,"Rl":2.66,"Rh":2.74,"d-Halton":2.78,"Hl":2.72,"Hh":2.84,"k-DPP":2.7,"Kl":2.66,"Kh":2.74,"GAC":2.53,"GIPPR":2.52},
{"n":10,"Random":2.62,"Rl":2.58,"Rh":2.66,"d-Halton":2.7,"Hl":2.64,"Hh":2.76,"k-DPP":2.61,"Kl":2.57,"Kh":2.65,"GAC":2.46,"GIPPR":2.47},
{"n":11,"Random":2.56,"Rl":2.52,"Rh":2.6,"d-Halton":2.64,"Hl":2.58,"Hh":2.7,"k-DPP":2.55,"Kl":2.51,"Kh":2.59,"GAC":2.39,"GIPPR":2.42},
{"n":12,"Random":2.5,"Rl":2.46,"Rh":2.54,"d-Halton":2.58,"Hl":2.52,"Hh":2.64,"k-DPP":2.48,"Kl":2.44,"Kh":2.52,"GAC":2.32,"GIPPR":2.38},
{"n":13,"Random":2.44,"Rl":2.4,"Rh":2.48,"d-Halton":2.48,"Hl":2.43,"Hh":2.53,"k-DPP":2.41,"Kl":2.37,"Kh":2.45,"GAC":2.26,"GIPPR":2.34},
{"n":14,"Random":2.39,"Rl":2.35,"Rh":2.43,"d-Halton":2.4,"Hl":2.36,"Hh":2.44,"k-DPP":2.37,"Kl":2.33,"Kh":2.41,"GAC":2.2,"GIPPR":2.28},
{"n":15,"Random":2.34,"Rl":2.3,"Rh":2.38,"d-Halton":2.35,"Hl":2.31,"Hh":2.39,"k-DPP":2.33,"Kl":2.29,"Kh":2.37,"GAC":2.15,"GIPPR":2.24},
{"n":16,"Random":2.3,"Rl":2.26,"Rh":2.34,"d-Halton":2.31,"Hl":2.27,"Hh":2.35,"k-DPP":2.3,"Kl":2.26,"Kh":2.34,"GAC":2.1,"GIPPR":2.2},
{"n":17,"Random":2.26,"Rl":2.22,"Rh":2.3,"d-Halton":2.26,"Hl":2.22,"Hh":2.3,"k-DPP":2.26,"Kl":2.22,"Kh":2.3,"GAC":2.05,"GIPPR":2.16},
{"n":18,"Random":2.22,"Rl":2.18,"Rh":2.26,"d-Halton":2.22,"Hl":2.18,"Hh":2.26,"k-DPP":2.23,"Kl":2.19,"Kh":2.27,"GAC":2.0,"GIPPR":2.13},
{"n":19,"Random":2.18,"Rl":2.14,"Rh":2.22,"d-Halton":2.18,"Hl":2.14,"Hh":2.22,"k-DPP":2.2,"Kl":2.16,"Kh":2.24,"GAC":1.96,"GIPPR":2.1},
{"n":20,"Random":2.14,"Rl":2.1,"Rh":2.18,"d-Halton":2.14,"Hl":2.1,"Hh":2.18,"k-DPP":2.13,"Kl":2.09,"Kh":2.17,"GAC":1.92,"GIPPR":2.07},
{"n":22,"Random":2.08,"Rl":2.04,"Rh":2.12,"d-Halton":2.08,"Hl":2.04,"Hh":2.12,"k-DPP":2.08,"Kl":2.04,"Kh":2.12,"GAC":1.86,"GIPPR":2.01},
{"n":24,"Random":2.03,"Rl":1.99,"Rh":2.07,"d-Halton":2.02,"Hl":1.98,"Hh":2.06,"k-DPP":2.03,"Kl":1.99,"Kh":2.07,"GAC":1.8,"GIPPR":1.96},
{"n":26,"Random":1.97,"Rl":1.93,"Rh":2.01,"d-Halton":1.97,"Hl":1.93,"Hh":2.01,"k-DPP":1.97,"Kl":1.93,"Kh":2.01,"GAC":1.76,"GIPPR":1.91},
{"n":28,"Random":1.92,"Rl":1.88,"Rh":1.96,"d-Halton":1.92,"Hl":1.88,"Hh":1.96,"k-DPP":1.93,"Kl":1.89,"Kh":1.97,"GAC":1.72,"GIPPR":1.86},
{"n":30,"Random":1.88,"Rl":1.84,"Rh":1.92,"d-Halton":1.87,"Hl":1.83,"Hh":1.91,"k-DPP":1.88,"Kl":1.84,"Kh":1.92,"GAC":1.685,"GIPPR":1.8},
{"n":32,"Random":1.84,"Rl":1.8,"Rh":1.88,"d-Halton":1.83,"Hl":1.79,"Hh":1.87,"k-DPP":1.84,"Kl":1.8,"Kh":1.88,"GAC":1.65,"GIPPR":1.76},
{"n":34,"Random":1.8,"Rl":1.76,"Rh":1.84,"d-Halton":1.79,"Hl":1.75,"Hh":1.83,"k-DPP":1.8,"Kl":1.76,"Kh":1.84,"GAC":1.62,"GIPPR":1.72},
{"n":36,"Random":1.77,"Rl":1.73,"Rh":1.81,"d-Halton":1.76,"Hl":1.72,"Hh":1.8,"k-DPP":1.77,"Kl":1.73,"Kh":1.81,"GAC":1.59,"GIPPR":1.68},
{"n":38,"Random":1.74,"Rl":1.7,"Rh":1.78,"d-Halton":1.73,"Hl":1.69,"Hh":1.77,"k-DPP":1.74,"Kl":1.7,"Kh":1.78,"GAC":1.56,"GIPPR":1.64},
{"n":40,"Random":1.7,"Rl":1.66,"Rh":1.74,"d-Halton":1.69,"Hl":1.65,"Hh":1.73,"k-DPP":1.7,"Kl":1.66,"Kh":1.74,"GAC":1.535,"GIPPR":1.59},
{"n":42,"Random":1.68,"Rl":1.64,"Rh":1.72,"d-Halton":1.67,"Hl":1.63,"Hh":1.71,"k-DPP":1.68,"Kl":1.64,"Kh":1.72,"GAC":1.51,"GIPPR":1.55},
{"n":44,"Random":1.66,"Rl":1.62,"Rh":1.7,"d-Halton":1.65,"Hl":1.61,"Hh":1.69,"k-DPP":1.65,"Kl":1.61,"Kh":1.69,"GAC":1.49,"GIPPR":1.52},
{"n":46,"Random":1.63,"Rl":1.59,"Rh":1.67,"d-Halton":1.62,"Hl":1.58,"Hh":1.66,"k-DPP":1.62,"Kl":1.58,"Kh":1.66,"GAC":1.47,"GIPPR":1.48},
{"n":48,"Random":1.61,"Rl":1.57,"Rh":1.65,"d-Halton":1.6,"Hl":1.56,"Hh":1.64,"k-DPP":1.6,"Kl":1.56,"Kh":1.64,"GAC":1.45,"GIPPR":1.45},
{"n":50,"Random":1.6,"Rl":1.56,"Rh":1.64,"d-Halton":1.57,"Hl":1.53,"Hh":1.61,"k-DPP":1.58,"Kl":1.54,"Kh":1.62,"GAC":1.43,"GIPPR":1.42}
]
},
"concat": [
{
 "width": 624, "height": 469, "data": {"name": "p1"},
 "layer": [
  {"mark": {"type": "area", "color": "#e41a1c", "opacity": 0.2, "clip": true}, "encoding": {"x": {"field": "n", "type": "quantitative", "scale": {"domain": [1, 50], "nice": false}, "axis": {"orient": "top", "values": [10, 20, 30, 40, 50], "labels": false, "title": null, "grid": false}}, "y": {"field": "Rl", "type": "quantitative", "scale": {"domain": [-3.68, 0.28], "nice": false, "zero": false}, "axis": {"orient": "right", "values": [-3, -2.5, -2, -1.5, -1, -0.5, 0], "labels": false, "title": null, "grid": false}}, "y2": {"field": "Rh"}}},
  {"mark": {"type": "area", "color": "#c07850", "opacity": 0.2, "clip": true}, "encoding": {"x": {"field": "n", "type": "quantitative", "scale": {"domain": [1, 50], "nice": false}, "axis": null}, "y": {"field": "Hl", "type": "quantitative", "scale": {"domain": [-3.68, 0.28], "nice": false, "zero": false}, "axis": null}, "y2": {"field": "Hh"}}},
  {"mark": {"type": "area", "color": "#8b62ac", "opacity": 0.2, "clip": true}, "encoding": {"x": {"field": "n", "type": "quantitative", "scale": {"domain": [1, 50], "nice": false}, "axis": null}, "y": {"field": "Kl", "type": "quantitative", "scale": {"domain": [-3.68, 0.28], "nice": false, "zero": false}, "axis": null}, "y2": {"field": "Kh"}}},
  {"transform": [{"fold": ["Random", "d-Halton", "k-DPP", "GAC", "GIPPR"], "as": ["method", "value"]}],
   "mark": {"type": "line", "strokeWidth": 5, "opacity": 0.9, "clip": true},
   "encoding": {"x": {"field": "n", "type": "quantitative", "scale": {"domain": [1, 50], "nice": false}, "axis": {"values": [10, 20, 30, 40, 50], "grid": true, "title": "Size n of the design Dₙ"}}, "y": {"field": "value", "type": "quantitative", "scale": {"domain": [-3.68, 0.28], "nice": false, "zero": false}, "axis": {"values": [-3, -2.5, -2, -1.5, -1, -0.5, 0], "grid": true, "title": "- Packing Radius", "labelExpr": "datum.value % 1 == 0 ? '' + datum.value : ''"}}, "color": {"field": "method", "type": "nominal", "scale": {"domain": ["Random", "d-Halton", "k-DPP", "GAC", "GIPPR"], "range": ["#e2111a", "#bb6e44", "#8257a8", "#3d89c1", "#4dac4c"]}, "legend": {"legendX": 309, "legendY": 161}}}}
 ],
 "resolve": {"axis": {"x": "independent", "y": "independent"}}
},
{
 "width": 633, "height": 469, "data": {"name": "p2"},
 "layer": [
  {"mark": {"type": "area", "color": "#e41a1c", "opacity": 0.2, "clip": true}, "encoding": {"x": {"field": "n", "type": "quantitative", "scale": {"domain": [1, 50], "nice": false}, "axis": {"orient": "top", "values": [10, 20, 30, 40, 50], "labels": false, "title": null, "grid": false}}, "y": {"field": "Rl", "type": "quantitative", "scale": {"domain": [0.745, 6.3], "nice": false, "zero": false}, "axis": {"orient": "right", "values": [1, 2, 3, 4, 5, 6], "labels": false, "title": null, "grid": false}}, "y2": {"field": "Rh"}}},
  {"mark": {"type": "area", "color": "#c07850", "opacity": 0.2, "clip": true}, "encoding": {"x": {"field": "n", "type": "quantitative", "scale": {"domain": [1, 50], "nice": false}, "axis": null}, "y": {"field": "Hl", "type": "quantitative", "scale": {"domain": [0.745, 6.3], "nice": false, "zero": false}, "axis": null}, "y2": {"field": "Hh"}}},
  {"mark": {"type": "area", "color": "#8b62ac", "opacity": 0.2, "clip": true}, "encoding": {"x": {"field": "n", "type": "quantitative", "scale": {"domain": [1, 50], "nice": false}, "axis": null}, "y": {"field": "Kl", "type": "quantitative", "scale": {"domain": [0.745, 6.3], "nice": false, "zero": false}, "axis": null}, "y2": {"field": "Kh"}}},
  {"transform": [{"fold": ["Random", "d-Halton", "k-DPP", "GAC", "GIPPR"], "as": ["method", "value"]}],
   "mark": {"type": "line", "strokeWidth": 5, "opacity": 0.9, "clip": true},
   "encoding": {"x": {"field": "n", "type": "quantitative", "scale": {"domain": [1, 50], "nice": false}, "axis": {"values": [10, 20, 30, 40, 50], "grid": true, "title": "Size n of the design Dₙ"}}, "y": {"field": "value", "type": "quantitative", "scale": {"domain": [0.745, 6.3], "nice": false, "zero": false}, "axis": {"values": [1, 2, 3, 4, 5, 6], "grid": true, "title": "Covering Radius", "labelExpr": "datum.value % 1 == 0 ? '' + datum.value : ''"}}, "color": {"field": "method", "type": "nominal", "scale": {"domain": ["Random", "d-Halton", "k-DPP", "GAC", "GIPPR"], "range": ["#e2111a", "#bb6e44", "#8257a8", "#3d89c1", "#4dac4c"]}, "legend": {"legendX": 312, "legendY": 20}}}}
 ],
 "resolve": {"axis": {"x": "independent", "y": "independent"}}
},
{
 "width": 634, "height": 469, "data": {"name": "p3"},
 "layer": [
  {"mark": {"type": "area", "color": "#e41a1c", "opacity": 0.2, "clip": true}, "encoding": {"x": {"field": "n", "type": "quantitative", "scale": {"domain": [1, 50], "nice": false}, "axis": {"orient": "top", "values": [10, 20, 30, 40, 50], "labels": false, "title": null, "grid": false}}, "y": {"field": "Rl", "type": "quantitative", "scale": {"domain": [0.49, 3.13], "nice": false, "zero": false}, "axis": {"orient": "right", "values": [0.5, 1, 1.5, 2, 2.5, 3], "labels": false, "title": null, "grid": false}}, "y2": {"field": "Rh"}}},
  {"mark": {"type": "area", "color": "#c07850", "opacity": 0.2, "clip": true}, "encoding": {"x": {"field": "n", "type": "quantitative", "scale": {"domain": [1, 50], "nice": false}, "axis": null}, "y": {"field": "Hl", "type": "quantitative", "scale": {"domain": [0.49, 3.13], "nice": false, "zero": false}, "axis": null}, "y2": {"field": "Hh"}}},
  {"mark": {"type": "area", "color": "#8b62ac", "opacity": 0.2, "clip": true}, "encoding": {"x": {"field": "n", "type": "quantitative", "scale": {"domain": [1, 50], "nice": false}, "axis": null}, "y": {"field": "Kl", "type": "quantitative", "scale": {"domain": [0.49, 3.13], "nice": false, "zero": false}, "axis": null}, "y2": {"field": "Kh"}}},
  {"transform": [{"fold": ["Random", "d-Halton", "k-DPP", "GAC", "GIPPR"], "as": ["method", "value"]}],
   "mark": {"type": "line", "strokeWidth": 5, "opacity": 0.9, "clip": true},
   "encoding": {"x": {"field": "n", "type": "quantitative", "scale": {"domain": [1, 50], "nice": false}, "axis": {"values": [10, 20, 30, 40, 50], "grid": true, "title": "Size n of the design Dₙ"}}, "y": {"field": "value", "type": "quantitative", "scale": {"domain": [0.49, 3.13], "nice": false, "zero": false}, "axis": {"values": [0.5, 1, 1.5, 2, 2.5, 3], "grid": true, "title": "Average Covering", "labelExpr": "datum.value % 1 == 0 ? '' + datum.value : ''"}}, "color": {"field": "method", "type": "nominal", "scale": {"domain": ["Random", "d-Halton", "k-DPP", "GAC", "GIPPR"], "range": ["#e2111a", "#bb6e44", "#8257a8", "#3d89c1", "#4dac4c"]}, "legend": {"legendX": 311, "legendY": 20}}}}
 ],
 "resolve": {"axis": {"x": "independent", "y": "independent"}}
},
{
 "width": 624, "height": 470, "data": {"name": "p4"},
 "layer": [
  {"mark": {"type": "area", "color": "#e41a1c", "opacity": 0.2, "clip": true}, "encoding": {"x": {"field": "n", "type": "quantitative", "scale": {"domain": [1, 50], "nice": false}, "axis": {"orient": "top", "values": [10, 20, 30, 40, 50], "labels": false, "title": null, "grid": false}}, "y": {"field": "Rl", "type": "quantitative", "scale": {"domain": [-5.26, 0.345], "nice": false, "zero": false}, "axis": {"orient": "right", "values": [-5, -4, -3, -2, -1, 0], "labels": false, "title": null, "grid": false}}, "y2": {"field": "Rh"}}},
  {"mark": {"type": "area", "color": "#c07850", "opacity": 0.2, "clip": true}, "encoding": {"x": {"field": "n", "type": "quantitative", "scale": {"domain": [1, 50], "nice": false}, "axis": null}, "y": {"field": "Hl", "type": "quantitative", "scale": {"domain": [-5.26, 0.345], "nice": false, "zero": false}, "axis": null}, "y2": {"field": "Hh"}}},
  {"mark": {"type": "area", "color": "#8b62ac", "opacity": 0.2, "clip": true}, "encoding": {"x": {"field": "n", "type": "quantitative", "scale": {"domain": [1, 50], "nice": false}, "axis": null}, "y": {"field": "Kl", "type": "quantitative", "scale": {"domain": [-5.26, 0.345], "nice": false, "zero": false}, "axis": null}, "y2": {"field": "Kh"}}},
  {"transform": [{"fold": ["Random", "d-Halton", "k-DPP", "GAC", "GIPPR"], "as": ["method", "value"]}],
   "mark": {"type": "line", "strokeWidth": 5, "opacity": 0.9, "clip": true},
   "encoding": {"x": {"field": "n", "type": "quantitative", "scale": {"domain": [1, 50], "nice": false}, "axis": {"values": [10, 20, 30, 40, 50], "grid": true, "title": "Size n of the design Dₙ"}}, "y": {"field": "value", "type": "quantitative", "scale": {"domain": [-5.26, 0.345], "nice": false, "zero": false}, "axis": {"values": [-5, -4, -3, -2, -1, 0], "grid": true, "title": "- Packing Radius", "labelExpr": "datum.value % 1 == 0 ? '' + datum.value : ''"}}, "color": {"field": "method", "type": "nominal", "scale": {"domain": ["Random", "d-Halton", "k-DPP", "GAC", "GIPPR"], "range": ["#e2111a", "#bb6e44", "#8257a8", "#3d89c1", "#4dac4c"]}, "legend": {"legendX": 307, "legendY": 162}}}}
 ],
 "resolve": {"axis": {"x": "independent", "y": "independent"}}
},
{
 "width": 633, "height": 470, "data": {"name": "p5"},
 "layer": [
  {"mark": {"type": "area", "color": "#e41a1c", "opacity": 0.2, "clip": true}, "encoding": {"x": {"field": "n", "type": "quantitative", "scale": {"domain": [1, 50], "nice": false}, "axis": {"orient": "top", "values": [10, 20, 30, 40, 50], "labels": false, "title": null, "grid": false}}, "y": {"field": "Rl", "type": "quantitative", "scale": {"domain": [1.65, 9.3], "nice": false, "zero": false}, "axis": {"orient": "right", "values": [2, 4, 6, 8], "labels": false, "title": null, "grid": false}}, "y2": {"field": "Rh"}}},
  {"mark": {"type": "area", "color": "#c07850", "opacity": 0.2, "clip": true}, "encoding": {"x": {"field": "n", "type": "quantitative", "scale": {"domain": [1, 50], "nice": false}, "axis": null}, "y": {"field": "Hl", "type": "quantitative", "scale": {"domain": [1.65, 9.3], "nice": false, "zero": false}, "axis": null}, "y2": {"field": "Hh"}}},
  {"mark": {"type": "area", "color": "#8b62ac", "opacity": 0.2, "clip": true}, "encoding": {"x": {"field": "n", "type": "quantitative", "scale": {"domain": [1, 50], "nice": false}, "axis": null}, "y": {"field": "Kl", "type": "quantitative", "scale": {"domain": [1.65, 9.3], "nice": false, "zero": false}, "axis": null}, "y2": {"field": "Kh"}}},
  {"transform": [{"fold": ["Random", "d-Halton", "k-DPP", "GAC", "GIPPR"], "as": ["method", "value"]}],
   "mark": {"type": "line", "strokeWidth": 5, "opacity": 0.9, "clip": true},
   "encoding": {"x": {"field": "n", "type": "quantitative", "scale": {"domain": [1, 50], "nice": false}, "axis": {"values": [10, 20, 30, 40, 50], "grid": true, "title": "Size n of the design Dₙ"}}, "y": {"field": "value", "type": "quantitative", "scale": {"domain": [1.65, 9.3], "nice": false, "zero": false}, "axis": {"values": [2, 4, 6, 8], "grid": true, "title": "Covering Radius", "labelExpr": "datum.value % 1 == 0 ? '' + datum.value : ''"}}, "color": {"field": "method", "type": "nominal", "scale": {"domain": ["Random", "d-Halton", "k-DPP", "GAC", "GIPPR"], "range": ["#e2111a", "#bb6e44", "#8257a8", "#3d89c1", "#4dac4c"]}, "legend": {"legendX": 311, "legendY": 21}}}}
 ],
 "resolve": {"axis": {"x": "independent", "y": "independent"}}
},
{
 "width": 634, "height": 470, "data": {"name": "p6"},
 "layer": [
  {"mark": {"type": "area", "color": "#e41a1c", "opacity": 0.2, "clip": true}, "encoding": {"x": {"field": "n", "type": "quantitative", "scale": {"domain": [1, 50], "nice": false}, "axis": {"orient": "top", "values": [10, 20, 30, 40, 50], "labels": false, "title": null, "grid": false}}, "y": {"field": "Rl", "type": "quantitative", "scale": {"domain": [1.265, 4.64], "nice": false, "zero": false}, "axis": {"orient": "right", "values": [1.5, 2, 2.5, 3, 3.5, 4, 4.5], "labels": false, "title": null, "grid": false}}, "y2": {"field": "Rh"}}},
  {"mark": {"type": "area", "color": "#c07850", "opacity": 0.2, "clip": true}, "encoding": {"x": {"field": "n", "type": "quantitative", "scale": {"domain": [1, 50], "nice": false}, "axis": null}, "y": {"field": "Hl", "type": "quantitative", "scale": {"domain": [1.265, 4.64], "nice": false, "zero": false}, "axis": null}, "y2": {"field": "Hh"}}},
  {"mark": {"type": "area", "color": "#8b62ac", "opacity": 0.2, "clip": true}, "encoding": {"x": {"field": "n", "type": "quantitative", "scale": {"domain": [1, 50], "nice": false}, "axis": null}, "y": {"field": "Kl", "type": "quantitative", "scale": {"domain": [1.265, 4.64], "nice": false, "zero": false}, "axis": null}, "y2": {"field": "Kh"}}},
  {"transform": [{"fold": ["Random", "d-Halton", "k-DPP", "GAC", "GIPPR"], "as": ["method", "value"]}],
   "mark": {"type": "line", "strokeWidth": 5, "opacity": 0.9, "clip": true},
   "encoding": {"x": {"field": "n", "type": "quantitative", "scale": {"domain": [1, 50], "nice": false}, "axis": {"values": [10, 20, 30, 40, 50], "grid": true, "title": "Size n of the design Dₙ"}}, "y": {"field": "value", "type": "quantitative", "scale": {"domain": [1.265, 4.64], "nice": false, "zero": false}, "axis": {"values": [1.5, 2, 2.5, 3, 3.5, 4, 4.5], "grid": true, "title": "Average Covering", "labelExpr": "datum.value % 1 == 0 ? '' + datum.value : ''"}}, "color": {"field": "method", "type": "nominal", "scale": {"domain": ["Random", "d-Halton", "k-DPP", "GAC", "GIPPR"], "range": ["#e2111a", "#bb6e44", "#8257a8", "#3d89c1", "#4dac4c"]}, "legend": {"legendX": 311, "legendY": 21}}}}
 ],
 "resolve": {"axis": {"x": "independent", "y": "independent"}}
}
],
"columns": 3,
"spacing": {"row": 111, "column": 134},
"bounds": "flush",
"resolve": {"scale": {"color": "independent"}, "legend": {"color": "independent"}}
}
